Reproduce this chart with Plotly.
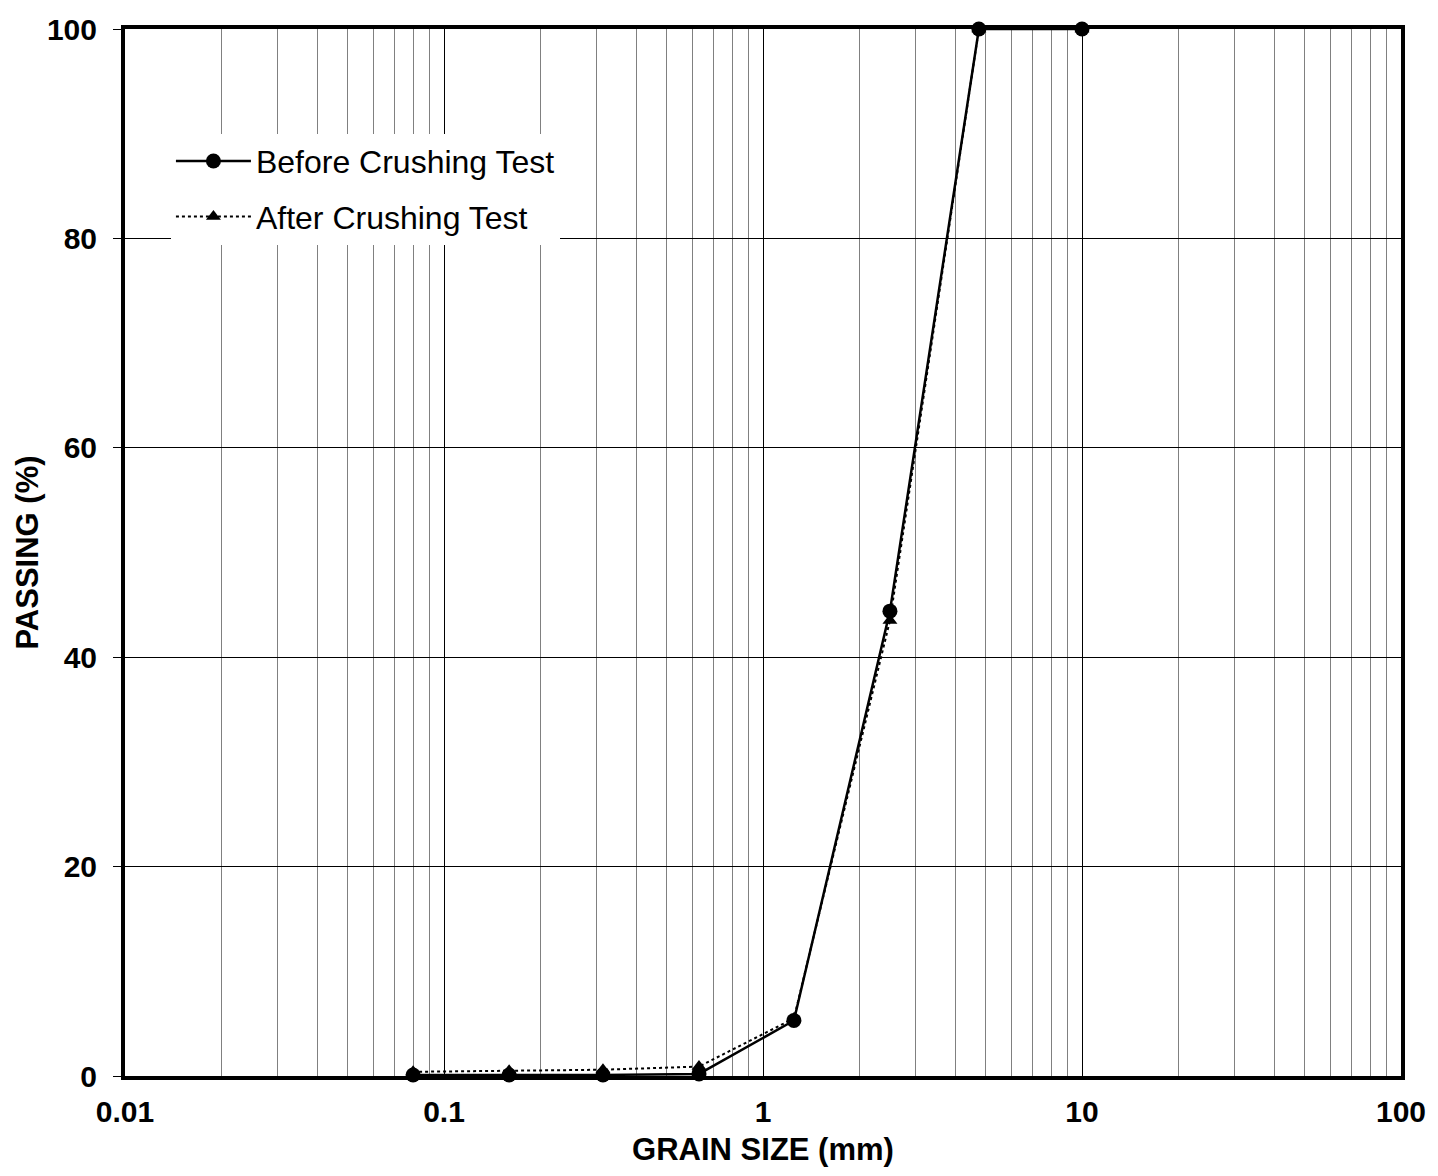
import plotly.graph_objects as go

grain_size = [0.08, 0.16, 0.315, 0.63, 1.25, 2.5, 4.75, 10]
before_passing = [0.1, 0.1, 0.1, 0.2, 5.3, 44.4, 100, 100]
after_passing = [0.4, 0.5, 0.6, 0.9, 5.5, 43.5, 100, 100]

font_family = "Liberation Sans, Arial, sans-serif"

fig = go.Figure()
fig.add_trace(go.Scatter(
    x=grain_size, y=before_passing, mode="lines+markers",
    name="Before Crushing Test", legendgroup="a",
    line=dict(color="black", width=2.5),
    marker=dict(symbol="circle", size=15, color="black"),
    cliponaxis=False,
))
fig.add_trace(go.Scatter(
    x=grain_size, y=after_passing, mode="lines+markers",
    name="After Crushing Test", legendgroup="b",
    line=dict(color="black", width=2, dash="dot"),
    marker=dict(symbol="triangle-up", size=13, color="black"),
    cliponaxis=False,
))

fig.update_layout(
    width=1438, height=1176,
    margin=dict(l=125, r=31, t=27, b=100),
    plot_bgcolor="white", paper_bgcolor="white",
    font=dict(family=font_family, color="black"),
    showlegend=True,
    legend=dict(
        x=0.036, y=0.9, xanchor="left", yanchor="top",
        bgcolor="white", borderwidth=0,
        font=dict(size=32, family=font_family, color="black"),
        itemwidth=75, tracegroupgap=11,
        traceorder="grouped",
    ),
    xaxis=dict(
        type="log", range=[-2, 2], dtick=1,
        showgrid=True, gridcolor="black", gridwidth=1,
        minor=dict(dtick="D1", showgrid=True, gridcolor="#808080", gridwidth=1, ticks=""),
        showline=True, linecolor="black", linewidth=4, mirror=True,
        ticks="", ticklabelstandoff=6,
        tickfont=dict(size=30, family=font_family, color="black"),
        title=dict(text="<b>GRAIN SIZE (mm)</b>", font=dict(size=31, family=font_family), standoff=12),
        tickprefix="<b>", ticksuffix="</b>", zeroline=False,
    ),
    yaxis=dict(
        range=[0, 100], dtick=20,
        showgrid=True, gridcolor="black", gridwidth=1,
        showline=True, linecolor="black", linewidth=4, mirror=True,
        ticks="outside", ticklen=8, tickwidth=1, tickcolor="black",
        ticklabelstandoff=10,
        tickfont=dict(size=30, family=font_family, color="black"),
        title=dict(text="<b>PASSING (%)</b>", font=dict(size=31, family=font_family), standoff=0),
        tickprefix="<b>", ticksuffix="</b>", zeroline=False,
    ),
)

fig.write_html("out.html")
